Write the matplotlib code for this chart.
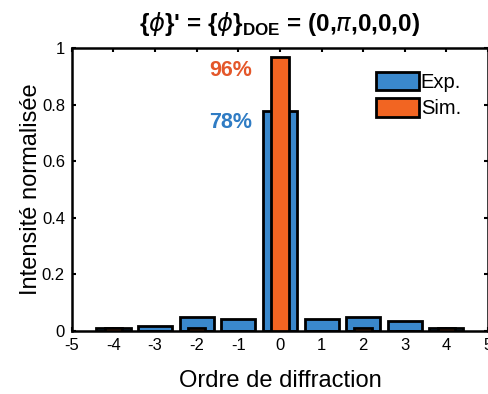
import numpy as np
import matplotlib
matplotlib.use("Agg")
import matplotlib.pyplot as plt

plt.rcParams['font.family'] = ['Liberation Sans', 'DejaVu Sans']
plt.rcParams['mathtext.fontset'] = 'custom'
plt.rcParams['mathtext.rm'] = 'Liberation Sans'
plt.rcParams['mathtext.bf'] = 'Liberation Sans:bold'
plt.rcParams['mathtext.it'] = 'DejaVu Sans:italic'
plt.rcParams['mathtext.fallback'] = 'stixsans'
plt.rcParams['axes.unicode_minus'] = False

# diffraction orders and normalised intensities
orders = [-4, -3, -2, -1, 0, 1, 2, 3, 4]
exp_vals = [0.010, 0.017, 0.051, 0.042, 0.777, 0.041, 0.049, 0.034, 0.012]
sim_vals = [0.009, 0.0, 0.012, 0.0, 0.967, 0.0, 0.012, 0.0, 0.009]

blue = '#3a88cc'
orange = '#f26522'

fig = plt.figure(figsize=(4.89, 3.94), dpi=100)
ax = fig.add_axes([0.147, 0.16, 0.851, 0.718])

ax.bar(orders, exp_vals, width=0.82, color=blue, edgecolor='black',
       linewidth=2.0, label='Exp.', zorder=2)
ax.bar(orders, sim_vals, width=0.42, color=orange, edgecolor='black',
       linewidth=2.0, label='Sim.', zorder=3)

ax.text(-0.66, 0.92, '96%', color='#e4572a', fontsize=15.5, fontweight='bold',
        ha='right', va='center')
ax.text(-0.66, 0.737, '78%', color='#2f7cc4', fontsize=15.5, fontweight='bold',
        ha='right', va='center')

ax.set_xlim(-5, 5)
ax.set_ylim(0, 1)
ax.set_xticks(range(-5, 6))
ax.set_yticks([0, 0.2, 0.4, 0.6, 0.8, 1])
ax.set_yticklabels(['0', '0.2', '0.4', '0.6', '0.8', '1'])
ax.tick_params(direction='in', top=True, right=True, length=3, width=1.5,
               labelsize=12, pad=5)
for s in ax.spines.values():
    s.set_linewidth(1.8)

ax.set_xlabel('Ordre de diffraction', fontsize=17, labelpad=12)
ax.set_ylabel('Intensité normalisée', fontsize=17, labelpad=0)
ax.set_title(r"{$\phi$}' = {$\phi$}$_{\mathbf{DOE}}$ = (0,$\pi$,0,0,0)",
             fontsize=17.5, fontweight='bold', pad=12)

leg = ax.legend(loc='upper right', bbox_to_anchor=(0.955, 0.945), frameon=False,
                fontsize=14.5, handlelength=2.15, handleheight=1.05,
                handletextpad=0.1, labelspacing=0.3, borderaxespad=0)

fig.savefig('out.png', dpi=100)
